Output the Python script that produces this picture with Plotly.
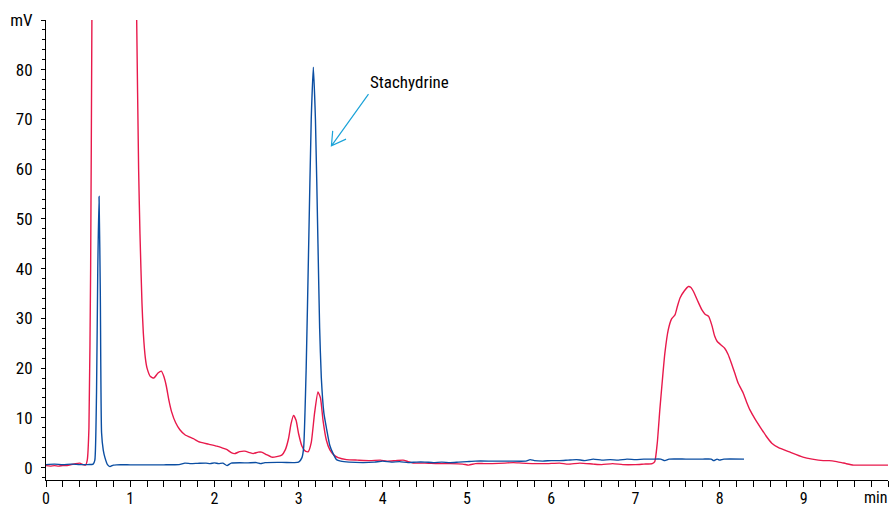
import plotly.graph_objects as go

# Red trace (time in min, signal in mV); values above 90 are off-scale
red_t = [0.00, 0.05, 0.10, 0.15, 0.20, 0.25, 0.30, 0.35, 0.40, 0.44, 0.47, 0.49, 0.51, 0.53, 0.545, 0.555,
         0.60, 0.90, 1.05, 1.077, 1.10, 1.116, 1.14, 1.156, 1.18, 1.20, 1.24, 1.28, 1.33, 1.37, 1.40, 1.43,
         1.46, 1.49, 1.54, 1.59, 1.65, 1.75, 1.83, 1.93, 2.03, 2.10, 2.15, 2.20, 2.24, 2.30, 2.36, 2.42,
         2.46, 2.52, 2.56, 2.62, 2.68, 2.74, 2.80, 2.84, 2.88, 2.91, 2.94, 2.97, 3.00, 3.04, 3.08, 3.115,
         3.15, 3.19, 3.23, 3.26, 3.29, 3.33, 3.37, 3.42, 3.47, 3.57, 3.70, 3.85, 3.97, 4.05, 4.15, 4.24,
         4.30, 4.36, 4.50, 4.65, 4.80, 4.95, 5.02, 5.10, 5.20, 5.30, 5.45, 5.55, 5.65, 5.80, 5.95, 6.10,
         6.20, 6.34, 6.50, 6.60, 6.73, 6.85, 7.00, 7.10, 7.20, 7.23, 7.26, 7.29, 7.32, 7.35, 7.39, 7.43,
         7.47, 7.50, 7.53, 7.58, 7.63, 7.66, 7.69, 7.74, 7.79, 7.83, 7.87, 7.91, 7.94, 7.97, 8.02, 8.06,
         8.10, 8.14, 8.18, 8.22, 8.28, 8.32, 8.36, 8.42, 8.48, 8.55, 8.62, 8.70, 8.82, 8.99, 9.10, 9.23,
         9.30, 9.39, 9.45, 9.50, 9.59, 9.70, 9.85, 10.00]
red_mv = [0.4, 0.3, 0.4, 0.3, 0.4, 0.4, 0.6, 0.8, 0.9, 0.6, 0.5, 1.5, 8.0, 40.0, 90.0, 130.0,
          150.0, 150.0, 130.0, 90.0, 60.0, 47.0, 33.0, 27.0, 22.0, 20.0, 18.3, 18.0, 19.0, 19.4, 18.3, 16.3,
          13.5, 11.3, 9.0, 7.6, 6.6, 5.8, 5.1, 4.7, 4.3, 3.9, 3.6, 3.0, 2.8, 3.2, 3.3, 3.0,
          2.8, 3.1, 3.1, 2.6, 2.1, 2.2, 2.5, 3.5, 5.8, 8.8, 10.5, 9.5, 6.8, 4.3, 3.3, 3.2,
          5.0, 11.0, 15.2, 14.0, 9.5, 5.5, 3.6, 2.5, 2.0, 1.6, 1.5, 1.4, 1.5, 1.3, 1.4, 1.5,
          1.2, 0.9, 0.9, 0.8, 0.8, 0.7, 0.5, 0.8, 0.8, 0.8, 0.9, 1.0, 0.9, 0.8, 0.8, 0.9,
          0.7, 0.9, 0.7, 0.6, 0.8, 0.6, 0.6, 0.7, 0.8, 1.2, 5.0, 11.6, 17.5, 23.0, 27.7, 29.9,
          30.7, 32.5, 34.1, 35.5, 36.4, 36.2, 35.4, 33.5, 31.7, 30.8, 30.4, 28.5, 26.5, 25.4, 24.6, 24.0,
          22.8, 21.0, 19.0, 17.0, 15.0, 13.2, 11.6, 9.8, 8.2, 6.4, 4.9, 4.0, 3.2, 2.1, 1.7, 1.4,
          1.4, 1.2, 1.0, 0.8, 0.5, 0.5, 0.5, 0.5]

# Blue trace
blue_t = [0.00, 0.10, 0.20, 0.30, 0.40, 0.50, 0.56, 0.58, 0.60, 0.615, 0.63, 0.645, 0.66, 0.68, 0.70, 0.73,
          0.76, 0.80, 0.84, 1.00, 1.20, 1.40, 1.58, 1.65, 1.72, 1.80, 1.90, 1.95, 2.00, 2.05, 2.10, 2.15,
          2.20, 2.40, 2.50, 2.55, 2.60, 2.80, 2.95, 3.00, 3.04, 3.06, 3.09, 3.12, 3.15, 3.175, 3.20, 3.23,
          3.25, 3.27, 3.30, 3.33, 3.37, 3.41, 3.45, 3.50, 3.60, 3.77, 3.90, 4.00, 4.10, 4.20, 4.30, 4.40,
          4.50, 4.60, 4.70, 4.80, 4.90, 5.00, 5.10, 5.30, 5.50, 5.70, 5.75, 5.80, 5.90, 6.00, 6.10, 6.20,
          6.30, 6.40, 6.50, 6.60, 6.70, 6.80, 6.90, 7.00, 7.10, 7.20, 7.30, 7.35, 7.40, 7.60, 7.80, 7.90,
          7.93, 7.97, 8.00, 8.05, 8.29]
blue_mv = [0.6, 0.7, 0.6, 0.7, 0.6, 0.6, 0.7, 1.5, 15.0, 40.0, 54.5, 35.0, 7.0, 3.5, 2.0, 0.6,
           0.2, 0.5, 0.55, 0.55, 0.55, 0.55, 0.6, 0.9, 0.8, 0.85, 0.9, 0.8, 0.95, 0.8, 0.9, 0.4,
           0.9, 0.95, 1.0, 0.8, 1.0, 1.05, 1.0, 1.1, 2.0, 4.0, 20.0, 45.0, 70.0, 80.5, 70.0, 45.0,
           28.0, 18.0, 11.0, 8.0, 4.5, 2.8, 1.6, 1.3, 1.1, 1.0, 1.1, 1.3, 1.1, 1.2, 1.0, 1.1,
           1.1, 1.0, 1.1, 1.0, 1.1, 1.2, 1.3, 1.3, 1.3, 1.3, 1.6, 1.4, 1.3, 1.4, 1.4, 1.5,
           1.6, 1.4, 1.7, 1.5, 1.6, 1.5, 1.7, 1.6, 1.7, 1.7, 1.7, 1.4, 1.7, 1.7, 1.7, 1.7,
           1.4, 1.7, 1.5, 1.7, 1.7]

x_tickvals = [0, 1, 2, 3, 4, 5, 6, 7, 8, 9]
x_ticktext = ["0", "1", "2", "3", "4", "5", "6", "7", "8", "9"]
x_unit = "min"
x_max = 10
y_tickvals = [0, 10, 20, 30, 40, 50, 60, 70, 80, 90]
y_ticktext = ["0", "10", "20", "30", "40", "50", "60", "70", "80", "mV"]

annot_text = "Stachydrine"
annot_xy = (4.32, 77.6)
arrow_tail = (3.83, 75.1)
arrow_head = (3.39, 64.7)
arrow_barb1 = (3.563, 66.05)
arrow_barb2 = (3.405, 67.7)

FONT = "Liberation Sans Narrow, Roboto Condensed, DejaVu Sans Condensed, Arial Narrow, sans-serif"

fig = go.Figure()
fig.add_trace(go.Scatter(x=red_t, y=red_mv, mode="lines",
                         line=dict(color="#E8194B", width=1.4, shape="spline", smoothing=0.5),
                         showlegend=False, hoverinfo="skip"))
fig.add_trace(go.Scatter(x=blue_t, y=blue_mv, mode="lines",
                         line=dict(color="#0B4EA2", width=1.4, shape="spline", smoothing=0.5),
                         showlegend=False, hoverinfo="skip"))

fig.add_annotation(x=annot_xy[0], y=annot_xy[1], text=annot_text, showarrow=False,
                   font=dict(family=FONT, size=17, color="black"), xref="x", yref="y")
fig.add_shape(type="path",
              path=(f"M {arrow_tail[0]},{arrow_tail[1]} L {arrow_head[0]},{arrow_head[1]} "
                    f"M {arrow_barb1[0]},{arrow_barb1[1]} L {arrow_head[0]},{arrow_head[1]} "
                    f"L {arrow_barb2[0]},{arrow_barb2[1]}"),
              line=dict(color="#1BA3D8", width=1.2), xref="x", yref="y")

# x-axis unit label, right-aligned to the axis end
fig.add_annotation(x=x_max, y=0, xref="x", yref="paper", text=x_unit, showarrow=False,
                   xanchor="right", yanchor="top", yshift=-7, borderpad=0,
                   font=dict(family=FONT, size=16, color="black"))

fig.update_layout(
    width=892, height=506,
    margin=dict(l=46, r=4, t=20, b=26),
    paper_bgcolor="white", plot_bgcolor="white",
    font=dict(family=FONT, size=17, color="black"),
    xaxis=dict(range=[0, x_max], tickvals=x_tickvals, ticktext=x_ticktext, automargin=False,
               showgrid=False, zeroline=False, showline=True, linecolor="black", linewidth=1,
               ticks="outside", ticklen=6, tickcolor="black", tickwidth=1, ticklabelstandoff=-2,
               minor=dict(dtick=0.2, tick0=0, ticks="outside", ticklen=6, tickcolor="black", showgrid=False),
               tickfont=dict(family=FONT, size=16, color="black")),
    yaxis=dict(range=[-2.5, 90], tickvals=y_tickvals, ticktext=y_ticktext, automargin=False,
               showgrid=False, zeroline=False, showline=True, linecolor="black", linewidth=1,
               ticks="outside", ticklen=4, tickcolor="black", tickwidth=1, ticklabelstandoff=5,
               minor=dict(dtick=2, tick0=0, ticks="outside", ticklen=3, tickcolor="black", showgrid=False),
               tickfont=dict(family=FONT, size=17, color="black")),
)

# remove the default 8px page margin so the 892x506 figure fills the window exactly
fig.write_html("out.html", config={"displayModeBar": False},
               post_script="document.body.style.margin='0';document.body.style.overflow='hidden';")
